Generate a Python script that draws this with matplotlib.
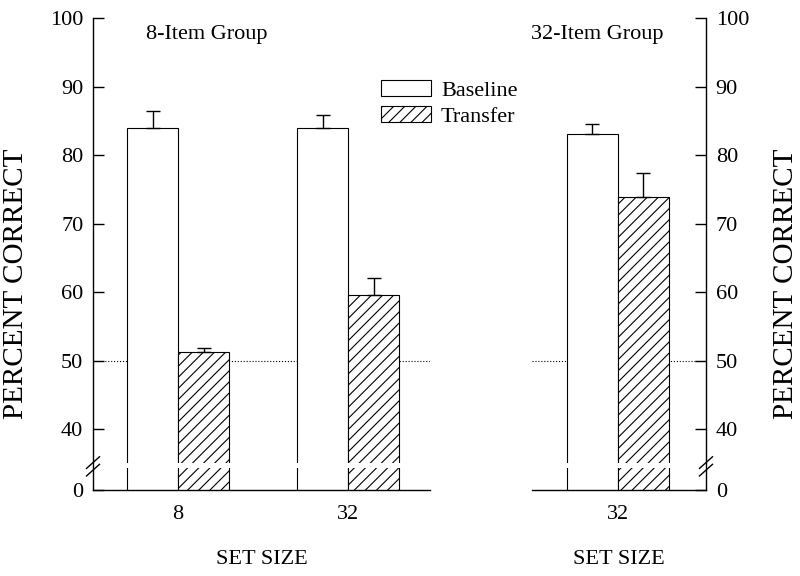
import numpy as np
import matplotlib.pyplot as plt
from matplotlib.patches import Patch

plt.rcParams['font.family'] = ['Liberation Serif', 'DejaVu Serif']
plt.rcParams['hatch.linewidth'] = 0.8

### values
left_sizes = ['8', '32']
left_base = [84.0, 83.9]
left_base_err = [2.4, 1.9]
left_trans = [51.2, 59.5]
left_trans_err = [0.6, 2.6]

right_sizes = ['32']
right_base = [83.0]
right_base_err = [1.5]
right_trans = [73.8]
right_trans_err = [3.6]

y_ticks = [40, 50, 60, 70, 80, 90, 100]
y_zero = 31.1      # where the "0" sits below the axis break
chance = 50

fig = plt.figure(figsize=(8, 5.76), dpi=100)
ax1 = fig.add_axes([93/800, 86/576, 337/800, 472/576])
ax2 = fig.add_axes([532/800, 86/576, 174/800, 472/576])

### draw one panel with the broken y axis
def draw_panel(ax, sizes, base, base_err, trans, trans_err, side):
    n = len(sizes)
    x = np.arange(n)
    w = 0.3
    ekw = dict(elinewidth=1, capthick=1, ecolor='black')
    ax.bar(x - w/2, base, w, color='white', edgecolor='black', linewidth=0.8,
           yerr=[np.zeros(n), base_err], capsize=5, error_kw=ekw)
    ax.bar(x + w/2, trans, w, color='white', edgecolor='black', linewidth=0.8,
           hatch='///', yerr=[np.zeros(n), trans_err], capsize=5, error_kw=ekw)
    ax.axhline(chance, ls=':', color='black', lw=0.8, zorder=0.5)
    ax.set_ylim(y_zero, 100)
    ax.set_yticks([y_zero] + y_ticks, ['0'] + [str(t) for t in y_ticks])
    ax.set_xticks(x, sizes)
    ax.tick_params(axis='y', direction='in', length=8, width=1, labelsize=16, pad=7)
    ax.tick_params(axis='x', length=0, pad=11, labelsize=16)
    for s in ['top', 'left', 'right']:
        ax.spines[s].set_visible(False)
    ax.spines[side].set_visible(True)
    for s in ax.spines.values():
        s.set_linewidth(1)
    if side == 'right':
        ax.yaxis.tick_right()
        ax.yaxis.set_label_position('right')
    # white gap through the bars
    ax.axhspan(34.35, 35.05, color='white', zorder=2.2, lw=0)
    # slashes on the spine
    xs = 0 if side == 'left' else 1
    dx = 6.5 / (ax.get_position().width * 800)
    tr = ax.get_yaxis_transform()
    for yc in [35.1, 34.0]:
        ax.plot([xs - dx, xs + dx], [yc - 0.85, yc + 0.85], color='black',
                lw=1, transform=tr, clip_on=False, zorder=3)
    ax.set_xlabel('SET SIZE', fontsize=16)
    ax.xaxis.set_label_coords(0.5, -0.128)
    ax.set_ylabel('PERCENT CORRECT', fontsize=21)

draw_panel(ax1, left_sizes, left_base, left_base_err, left_trans, left_trans_err, 'left')
ax1.set_xlim(-0.5, 1.482)
ax1.yaxis.set_label_coords(-0.19, 0.436)

draw_panel(ax2, right_sizes, right_base, right_base_err, right_trans, right_trans_err, 'right')
ax2.set_xlim(-0.506, 0.518)
ax2.yaxis.set_label_coords(1.385, 0.436)

fig.text(207/800, 1 - 35/576, '8-Item Group', fontsize=16, ha='center', va='center')
fig.text(597/800, 1 - 35/576, '32-Item Group', fontsize=16, ha='center', va='center')

handles = [Patch(facecolor='white', edgecolor='black', lw=0.8, label='Baseline'),
           Patch(facecolor='white', edgecolor='black', lw=0.8, hatch='///', label='Transfer')]
fig.legend(handles=handles, loc='upper left', bbox_to_anchor=(381/800, 1 - 80/576),
           frameon=False, fontsize=16, borderpad=0, borderaxespad=0,
           handlelength=2.25, handleheight=0.72, handletextpad=0.45, labelspacing=0.25)

fig.savefig('out.png', dpi=100)
